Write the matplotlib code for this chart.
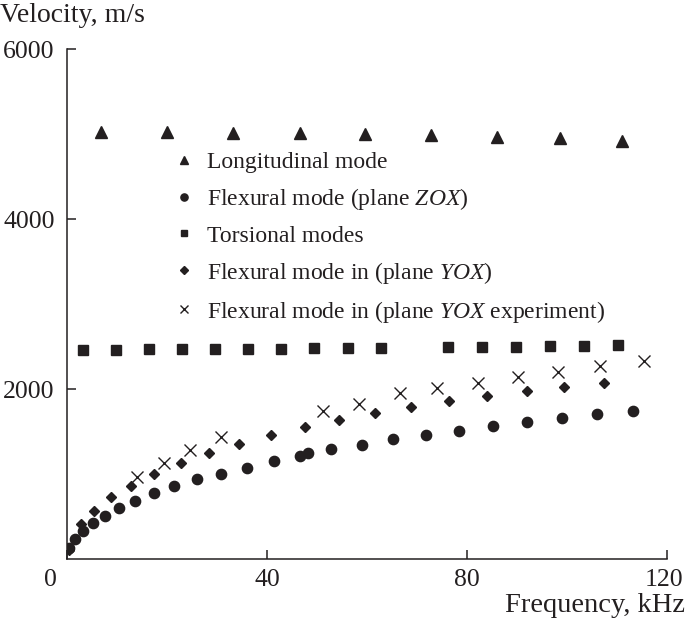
import matplotlib
matplotlib.use('Agg')
import matplotlib.pyplot as plt
import matplotlib.transforms as mtransforms

plt.rcParams['font.family'] = ['Liberation Serif', 'DejaVu Serif']
plt.rcParams['mathtext.fontset'] = 'custom'
plt.rcParams['mathtext.rm'] = 'Liberation Serif'
plt.rcParams['mathtext.it'] = 'Liberation Serif:italic'

# данные
f_long = [6.8, 20.0, 33.2, 46.5, 59.6, 72.8, 85.9, 98.6, 110.9]
v_long = [5020, 5020, 5010, 5010, 5000, 4990, 4970, 4950, 4920]

f_zox = [0.4, 1.6, 3.2, 5.1, 7.6, 10.3, 13.6, 17.3, 21.4, 25.9, 30.7, 35.9,
         41.3, 46.5, 48.1, 52.8, 58.9, 65.1, 71.7, 78.3, 85.1, 91.9, 98.9,
         105.9, 113.1]
v_zox = [130, 235, 333, 420, 506, 597, 686, 773, 859, 945, 1004, 1074,
         1153, 1212, 1251, 1290, 1345, 1408, 1459, 1509, 1565, 1615, 1655,
         1706, 1741]

f_tors = [3.2, 9.8, 16.3, 22.9, 29.5, 36.1, 42.7, 49.4, 56.1, 62.7,
          76.1, 82.9, 89.8, 96.6, 103.4, 110.1]
v_tors = [2460, 2460, 2465, 2465, 2470, 2470, 2475, 2478, 2480, 2482,
          2490, 2495, 2500, 2505, 2510, 2515]

f_yox = [0.3, 2.7, 5.4, 8.7, 12.7, 17.4, 22.7, 28.3, 34.4, 40.7, 47.5,
         54.4, 61.6, 68.8, 76.4, 83.9, 91.9, 99.4, 107.3]
v_yox = [106, 412, 568, 726, 859, 996, 1133, 1251, 1353, 1455, 1549,
         1635, 1714, 1785, 1855, 1918, 1977, 2027, 2074]

f_exp = [13.9, 19.4, 24.6, 30.7, 51.1, 58.4, 66.5, 73.9, 82.1, 90.1,
         98.1, 106.5, 115.3]
v_exp = [961, 1133, 1282, 1439, 1741, 1824, 1949, 2008, 2074, 2145,
         2204, 2271, 2333]

xticks = [0, 40, 80, 120]
yticks = [2000, 4000, 6000]

c = '#231f20'

fig = plt.figure(figsize=(6.85, 6.37), dpi=100)
ax = fig.add_axes([67 / 685, 78 / 637, 600 / 685, 510 / 637])

ax.plot(f_long, v_long, '^', color=c, ms=8, ls='none', label='Longitudinal mode')
ax.plot(f_zox, v_zox, 'o', color=c, ms=7.4, ls='none',
        label='Flexural mode (plane $\\mathit{ZOX}$)')
ax.plot(f_tors, v_tors, 's', color=c, ms=7, ls='none', label='Torsional modes')
ax.plot(f_yox, v_yox, 'D', color=c, ms=5.6, ls='none',
        label='Flexural mode in (plane $\\mathit{YOX}$)')
ax.plot(f_exp, v_exp, 'x', color=c, ms=8.4, mew=1.0, ls='none',
        label='Flexural mode in (plane $\\mathit{YOX}$ experiment)')

ax.set_xlim(0, 120)
ax.set_ylim(0, 6000)
ax.set_xticks(xticks)
ax.set_yticks(yticks)
ax.spines['top'].set_visible(False)
ax.spines['right'].set_visible(False)
for s in ['left', 'bottom']:
    ax.spines[s].set_linewidth(1.1)
    ax.spines[s].set_color(c)
ax.tick_params(direction='in', length=6.5, width=1.1, color=c,
               labelsize=18.5, labelcolor=c)
ax.tick_params(axis='y', pad=9)
ax.tick_params(axis='x', pad=7)

# "0" сдвинут влево от оси, "120" чуть влево, чтобы влез
labs = ax.get_xticklabels()
labs[0].set_horizontalalignment('right')
labs[0].set_transform(labs[0].get_transform() +
                      mtransforms.ScaledTranslation(-10 / 100, 0, fig.dpi_scale_trans))
labs[-1].set_transform(labs[-1].get_transform() +
                       mtransforms.ScaledTranslation(-3 / 100, 0, fig.dpi_scale_trans))

fig.text(0.0, 1 - 15 / 637, 'Velocity, m/s', fontsize=20, color=c,
         ha='left', va='center')
fig.text(1.0, 31 / 637, 'Frequency, kHz', fontsize=20.5, color=c,
         ha='right', va='center')

leg = ax.legend(loc='upper left', bbox_to_anchor=(0.155, 0.822), frameon=False,
                fontsize=17, numpoints=1, markerscale=0.7, handlelength=1.0,
                handletextpad=0.5, labelspacing=0.55, borderpad=0)
for t in leg.get_texts():
    t.set_color(c)

fig.savefig('out.png', dpi=100)
